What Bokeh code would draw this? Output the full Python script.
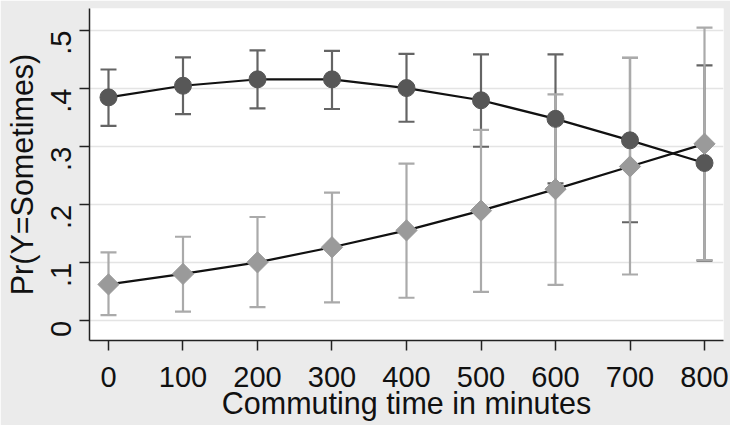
import math
from bokeh.plotting import figure
from bokeh.models import ColumnDataSource, FixedTicker, Range1d
from bokeh.embed import file_html
from bokeh.resources import INLINE

# Data
commute_minutes = [0, 100, 200, 300, 400, 500, 600, 700, 800]

dark_prob = [0.385, 0.405, 0.416, 0.416, 0.401, 0.380, 0.348, 0.311, 0.272]
dark_lower = [0.336, 0.356, 0.366, 0.365, 0.343, 0.300, 0.237, 0.170, 0.104]
dark_upper = [0.433, 0.454, 0.466, 0.465, 0.460, 0.459, 0.459, 0.453, 0.440]

light_prob = [0.063, 0.081, 0.101, 0.127, 0.156, 0.190, 0.227, 0.266, 0.305]
light_lower = [0.010, 0.016, 0.024, 0.032, 0.040, 0.050, 0.062, 0.080, 0.105]
light_upper = [0.118, 0.145, 0.179, 0.221, 0.271, 0.329, 0.390, 0.453, 0.505]

x_ticks = [0, 100, 200, 300, 400, 500, 600, 700, 800]
y_ticks = [0, 0.1, 0.2, 0.3, 0.4, 0.5]
y_tick_labels = ["0", ".1", ".2", ".3", ".4", ".5"]

x_title = "Commuting time in minutes"
y_title = "Pr(Y=Sometimes)"

FONT = "Liberation Sans"
BG = "#ebebeb"
DARK_BAR = "#646464"
DARK_MARK = "#575757"
LIGHT_BAR = "#aaaaaa"
LIGHT_MARK = "#9a9a9a"

dark = ColumnDataSource(dict(x=commute_minutes, y=dark_prob, lo=dark_lower, hi=dark_upper))
light = ColumnDataSource(dict(x=commute_minutes, y=light_prob, lo=light_lower, hi=light_upper))

p = figure(width=730, height=425, output_backend="svg", toolbar_location=None,
           x_range=Range1d(-25.5, 825.5), y_range=Range1d(-0.0336, 0.538),
           min_border_left=89, min_border_right=7, min_border_top=8, min_border_bottom=85)
p.outline_line_color = None
p.background_fill_color = "white"
p.border_fill_color = BG

# error bars: dark first, then light on top
for src, col in ((dark, DARK_BAR), (light, LIGHT_BAR)):
    p.segment(x0="x", x1="x", y0="lo", y1="hi", source=src, line_color=col, line_width=2.2)
    p.scatter(x="x", y="lo", source=src, marker="dash", size=16, line_color=col, line_width=2.2)
    p.scatter(x="x", y="hi", source=src, marker="dash", size=16, line_color=col, line_width=2.2)

# connecting lines
p.line(x="x", y="y", source=dark, line_color="#111111", line_width=2.2)
p.line(x="x", y="y", source=light, line_color="#111111", line_width=2.2)

# markers
p.scatter(x="x", y="y", source=dark, marker="circle", size=17,
          fill_color=DARK_MARK, line_color=DARK_MARK)
p.scatter(x="x", y="y", source=light, marker="square", size=15, angle=math.pi / 4,
          fill_color=LIGHT_MARK, line_color=LIGHT_MARK)

# grid
p.xgrid.grid_line_color = None
p.ygrid.grid_line_color = "#e4e4e4"
p.ygrid.grid_line_width = 1.5
p.ygrid.ticker = FixedTicker(ticks=y_ticks)

# axes
for ax in (p.xaxis[0], p.yaxis[0]):
    ax.axis_line_color = "#222222"
    ax.axis_line_width = 1.5
    ax.major_tick_line_color = "#222222"
    ax.major_tick_line_width = 1.5
    ax.major_tick_in = 0
    ax.major_tick_out = 10
    ax.minor_tick_line_color = None
    ax.major_label_text_font = FONT
    ax.major_label_text_font_size = "29px"
    ax.major_label_text_color = "#111111"
    ax.axis_label_text_font = FONT
    ax.axis_label_text_font_size = "30.5px"
    ax.axis_label_text_font_style = "normal"
    ax.axis_label_text_color = "#111111"

p.xaxis.ticker = FixedTicker(ticks=x_ticks)
p.xaxis.axis_label = x_title
p.xaxis.major_label_standoff = 16
p.xaxis.axis_label_standoff = -4

p.yaxis.ticker = FixedTicker(ticks=y_ticks)
p.yaxis.major_label_overrides = {t: lab for t, lab in zip(y_ticks, y_tick_labels)}
p.yaxis.major_label_orientation = math.pi / 2
p.yaxis.axis_label = y_title
p.yaxis.major_label_standoff = 18
p.yaxis.axis_label_standoff = 0

open("out.html", "w").write(file_html(p, INLINE))
